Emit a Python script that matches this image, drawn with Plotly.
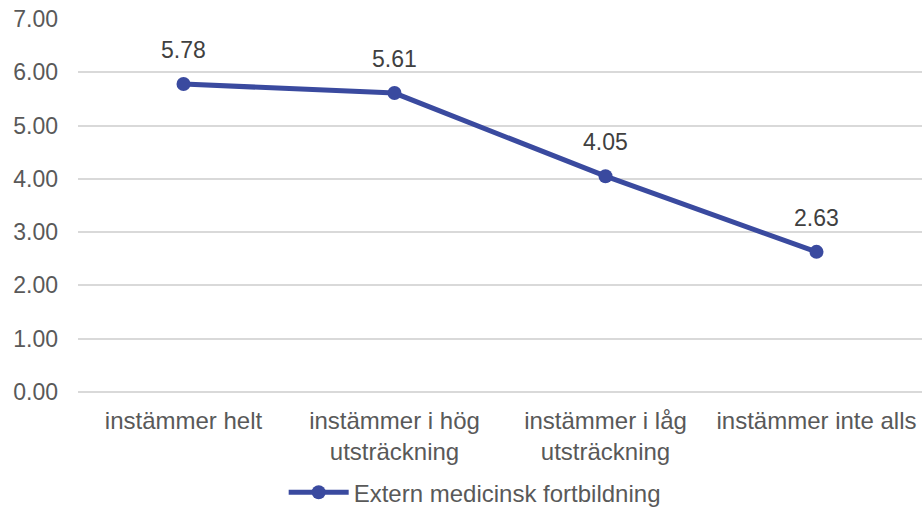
import plotly.graph_objects as go

categories = ["instämmer helt", "instämmer i hög<br>utsträckning", "instämmer i låg<br>utsträckning", "instämmer inte alls"]
values = [5.78, 5.61, 4.05, 2.63]
series_name = "Extern medicinsk fortbildning"
y_ticks = [0, 1, 2, 3, 4, 5, 6, 7]

color = "#3a4a9f"
font = "Liberation Sans, Arial, sans-serif"

xs = list(range(len(categories)))

fig = go.Figure()
fig.add_trace(go.Scatter(
    x=xs, y=values, name=series_name,
    mode="lines+markers",
    line=dict(color=color, width=5),
    marker=dict(color=color, size=14),
    showlegend=True,
))

for x, v in zip(xs, values):
    fig.add_annotation(x=x, y=v, xref="x", yref="y", text=f"{v:.2f}",
                       showarrow=False, yshift=34,
                       font=dict(family=font, size=23, color="#404040"))

fig.update_layout(
    width=922, height=513,
    margin=dict(l=78, r=0, t=19, b=121, autoexpand=False),
    plot_bgcolor="white", paper_bgcolor="white",
    font=dict(family=font, size=23, color="#595959"),
    xaxis=dict(
        tickmode="array", tickvals=xs, ticktext=categories,
        range=[-0.5, 3.5], showgrid=False, zeroline=False, showline=False,
        ticks="", ticklabelstandoff=12, automargin=False,
        tickfont=dict(size=24, color="#595959"),
    ),
    yaxis=dict(
        range=[0, 7], tickvals=y_ticks, tickformat=".2f",
        showgrid=True, gridcolor="#d9d9d9", gridwidth=1.5,
        zeroline=True, zerolinecolor="#d9d9d9", zerolinewidth=1.5,
        showline=False, ticks="", ticklabelstandoff=19, automargin=False,
        tickfont=dict(size=23, color="#595959"),
    ),
    legend=dict(orientation="h", x=0.47, xanchor="center", y=-0.27, yanchor="middle",
                itemwidth=60, font=dict(size=24, color="#595959")),
)

fig.write_html("out.html", config={"displayModeBar": False},
               post_script="document.body.style.margin='0';")
